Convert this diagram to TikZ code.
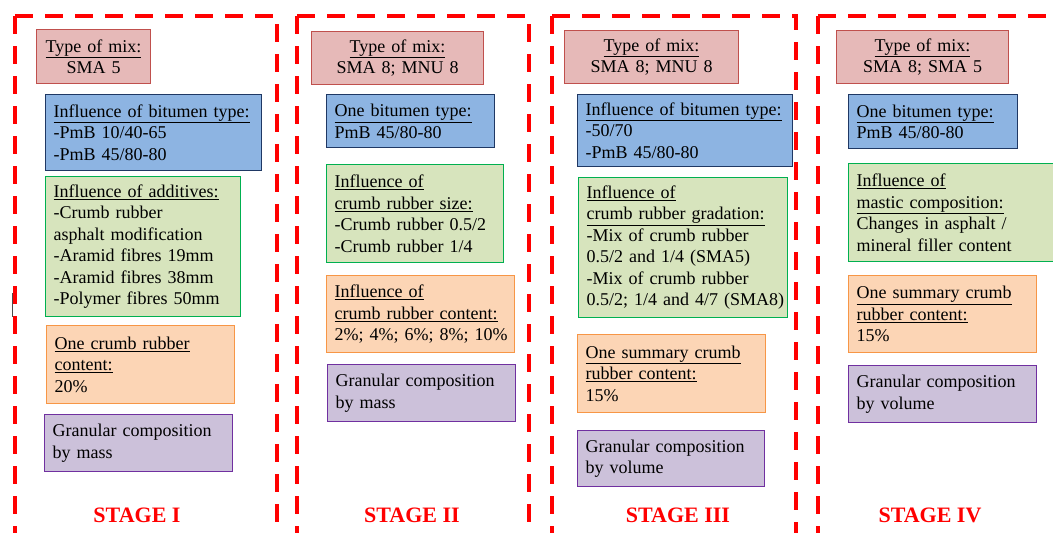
\documentclass[tikz,border=0pt]{standalone}
\usepackage{fontspec}
\setmainfont{Liberation Serif}
\usetikzlibrary{positioning}

\definecolor{mixfill}{HTML}{E6B9B8}
\definecolor{mixdraw}{HTML}{C0504D}
\definecolor{bitfill}{HTML}{8DB4E2}
\definecolor{bitdraw}{HTML}{1F3864}
\definecolor{addfill}{HTML}{D7E4BD}
\definecolor{adddraw}{HTML}{00B050}
\definecolor{confill}{HTML}{FCD5B5}
\definecolor{condraw}{HTML}{F79646}
\definecolor{granfill}{HTML}{CCC1DA}
\definecolor{grandraw}{HTML}{7030A0}

\begin{document}
\begin{tikzpicture}[x=1pt,y=-1pt,
        box/.style={draw, line width=1.2pt, anchor=north west, align=left,
            inner xsep=8pt, inner ysep=3pt, font=\fontsize{18}{21.5}\selectfont},
        mixbox/.style={box, fill=mixfill, draw=mixdraw, align=center},
        bitbox/.style={box, fill=bitfill, draw=bitdraw},
        addbox/.style={box, fill=addfill, draw=adddraw},
        conbox/.style={box, fill=confill, draw=condraw},
        granbox/.style={box, fill=granfill, draw=grandraw},
        frame/.style={draw=red, line width=3.5pt, dash pattern=on 18pt off 12pt},
        stagelbl/.style={text=red, font=\fontsize{22}{26}\selectfont\bfseries}]
        \useasboundingbox (0,0) rectangle (1053,533);
        \clip (0,0) rectangle (1053,533);
        % stage frames (open at the bottom)
        \foreach \l/\r in {15/277, 297/529, 552/796, 818/1080} {
            \draw[frame] (\l,16) -- (\l,560);
            \draw[frame] (\l,16) -- (\r,16) -- (\r,560);
        }
        \draw[gray!60!black, line width=0.8pt] (12,293) -- (12,317);

        % stage I
        \node[mixbox, text width=98pt, minimum height=54pt] (mixI) at (36,29)
            {\underline{Type of mix:}\\SMA 5};
        \node[bitbox, text width=200pt, minimum height=76pt] (bitI) at (45,94)
            {\underline{Influence of bitumen type:}\\-PmB 10/40-65\\-PmB 45/80-80};
        \node[addbox, text width=179pt, minimum height=140pt] (addI) at (45,176)
            {\underline{Influence of additives:}\\-Crumb rubber\\asphalt modification\\
             -Aramid fibres 19mm\\-Aramid fibres 38mm\\-Polymer fibres 50mm};
        \node[conbox, text width=172pt, minimum height=78pt] (conI) at (46,325)
            {\underline{One crumb rubber}\\\underline{content:}\\20\%};
        \node[granbox, text width=172pt, minimum height=57pt] (granI) at (44,414)
            {Granular composition\\by mass};
        \node[stagelbl] (stI) at (137,515) {STAGE I};

        % stage II
        \node[mixbox, text width=156pt, minimum height=53pt] (mixII) at (311,31)
            {\underline{Type of mix:}\\SMA 8; MNU 8};
        \node[bitbox, text width=152pt, minimum height=53pt] (bitII) at (326,94)
            {\underline{One bitumen type:}\\PmB 45/80-80};
        \node[addbox, text width=161pt, minimum height=98pt] (addII) at (326,164)
            {\underline{Influence of}\\\underline{crumb rubber size:}\\-Crumb rubber 0.5/2\\-Crumb rubber 1/4};
        \node[conbox, text width=172pt, minimum height=77pt] (conII) at (326,275)
            {\underline{Influence of}\\\underline{crumb rubber content:}\\\mbox{2\%; 4\%; 6\%; 8\%; 10\%}};
        \node[granbox, text width=172pt, minimum height=57pt] (granII) at (327,364)
            {Granular composition\\by mass};
        \node[stagelbl] (stII) at (412,515) {STAGE II};

        % stage III
        \node[mixbox, text width=158pt, minimum height=53pt] (mixIII) at (564,30)
            {\underline{Type of mix:}\\SMA 8; MNU 8};
        \node[bitbox, text width=199pt, minimum height=72pt] (bitIII) at (577,94)
            {\underline{Influence of bitumen type:}\\-50/70\\-PmB 45/80-80};
        \node[addbox, text width=193pt, minimum height=140pt] (addIII) at (578,177)
            {\underline{Influence of}\\\underline{crumb rubber gradation:}\\-Mix of crumb rubber\\
             0.5/2 and 1/4 (SMA5)\\-Mix of crumb rubber\\\mbox{0.5/2; 1/4 and 4/7 (SMA8)}};
        \node[conbox, text width=172pt, minimum height=78pt] (conIII) at (577,334)
            {\underline{One summary crumb}\\\underline{rubber content:}\\15\%};
        \node[granbox, text width=171pt, minimum height=56pt] (granIII) at (577,430)
            {Granular composition\\by volume};
        \node[stagelbl] (stIII) at (678,515) {STAGE III};

        % stage IV
        \node[mixbox, text width=156pt, minimum height=53pt] (mixIV) at (836,30)
            {\underline{Type of mix:}\\SMA 8; SMA 5};
        \node[bitbox, text width=153pt, minimum height=54pt] (bitIV) at (848,94)
            {\underline{One bitumen type:}\\PmB 45/80-80};
        \node[addbox, text width=210pt, minimum height=98pt] (addIV) at (848,163)
            {\underline{Influence of}\\\underline{mastic composition:}\\Changes in asphalt /\\mineral filler content};
        \node[conbox, text width=172pt, minimum height=77pt] (conIV) at (848,275)
            {\underline{One summary crumb}\\\underline{rubber content:}\\15\%};
        \node[granbox, text width=172pt, minimum height=57pt] (granIV) at (848,365)
            {Granular composition\\by volume};
        \node[stagelbl] (stIV) at (930,515) {STAGE IV};
    \end{tikzpicture}
\end{document}
